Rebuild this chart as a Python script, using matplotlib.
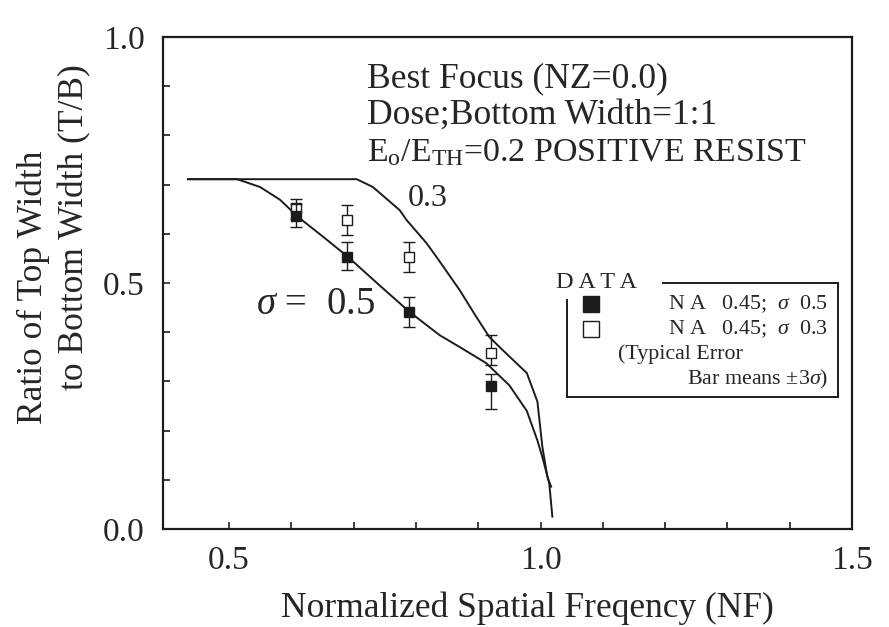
import matplotlib
matplotlib.use("Agg")
import matplotlib.pyplot as plt
from matplotlib.ticker import FixedLocator
from matplotlib.lines import Line2D
import numpy as np

plt.rcParams['font.family'] = ['Liberation Serif', 'DejaVu Serif']
plt.rcParams['mathtext.fontset'] = 'custom'
plt.rcParams['mathtext.rm'] = 'Liberation Serif'
plt.rcParams['mathtext.it'] = 'Liberation Serif:italic'

INK = '#1c1c1c'
TXT = '#262626'

# Simulated T/B ratio curves
nf_s05 = [0.434, 0.513, 0.550, 0.582, 0.611, 0.650, 0.691, 0.740, 0.790, 0.838,
          0.870, 0.913, 0.950, 0.978, 0.995, 1.003, 1.014, 1.019]
tb_s05 = [0.711, 0.711, 0.695, 0.669, 0.634, 0.595, 0.553, 0.497, 0.441, 0.394,
          0.370, 0.337, 0.292, 0.240, 0.180, 0.146, 0.093, 0.025]

nf_s03 = [0.434, 0.705, 0.731, 0.774, 0.785, 0.817, 0.833, 0.870, 0.897, 0.918,
          0.939, 0.978, 0.995, 1.003, 1.011, 1.017]
tb_s03 = [0.711, 0.711, 0.695, 0.648, 0.628, 0.581, 0.553, 0.486, 0.431, 0.390,
          0.364, 0.317, 0.259, 0.167, 0.106, 0.086]

# Measured data (NA 0.45)
nf_meas = [0.607, 0.689, 0.789, 0.920]
meas_s05 = [0.636, 0.553, 0.442, 0.291]
low_s05 = [0.614, 0.526, 0.411, 0.243]
high_s05 = [0.660, 0.584, 0.472, 0.316]
meas_s03 = [0.652, 0.628, 0.553, 0.358]
low_s03 = [0.630, 0.598, 0.523, 0.333]
high_s03 = [0.671, 0.659, 0.584, 0.394]

x_major = [0.5, 1.0, 1.5]
x_major_labels = ['0.5', '1.0', '1.5']
x_minor = [0.6, 0.7, 0.8, 0.9, 1.1, 1.2, 1.3, 1.4]
y_major = [0.0, 0.5, 1.0]
y_major_labels = ['0.0', '0.5', '1.0']
y_minor = [0.1, 0.2, 0.3, 0.4, 0.6, 0.7, 0.8, 0.9]

W, H = 889, 627
fig = plt.figure(figsize=(W / 100, H / 100), dpi=100)
ax = fig.add_axes([163 / W, 1 - 529 / H, 689 / W, 492 / H])
renderer = fig.canvas.get_renderer()


def fit(t, span):
    """Scale a text's font size so its long side covers `span` pixels."""
    bb = t.get_window_extent(renderer)
    length = max(bb.width, bb.height)
    t.set_fontsize(t.get_fontsize() * span / length)
    return t


ax.plot(nf_s05, tb_s05, color=INK, lw=1.4, zorder=2)
ax.plot(nf_s03, tb_s03, color=INK, lw=1.4, zorder=2)

y05 = np.array(meas_s05)
err05 = [y05 - np.array(low_s05), np.array(high_s05) - y05]
y03 = np.array(meas_s03)
err03 = [y03 - np.array(low_s03), np.array(high_s03) - y03]

ax.errorbar(nf_meas, meas_s03, yerr=err03, fmt='s', ms=7, mfc='white',
            mec=INK, mew=1.0, ecolor=INK, elinewidth=1.0, capsize=4.5,
            capthick=1.0, zorder=3)
ax.errorbar(nf_meas, meas_s05, yerr=err05, fmt='s', ms=7, mfc=INK,
            mec=INK, mew=1.0, ecolor=INK, elinewidth=1.0, capsize=4.5,
            capthick=1.0, zorder=4)

ax.set_xlim(0.394, 1.5)
ax.set_ylim(0.0, 1.0)

ax.xaxis.set_major_locator(FixedLocator(x_major))
ax.set_xticklabels(x_major_labels)
ax.xaxis.set_minor_locator(FixedLocator(x_minor))
ax.yaxis.set_major_locator(FixedLocator(y_major))
ax.set_yticklabels(y_major_labels)
ax.yaxis.set_minor_locator(FixedLocator(y_minor))

ax.tick_params(which='both', direction='in', length=5, width=1.2, color=INK,
               top=False, right=False)
ax.tick_params(axis='x', which='major', labelsize=24, pad=12, colors=TXT)
ax.tick_params(axis='y', which='major', labelsize=24, pad=13, colors=TXT)

for sp in ax.spines.values():
    sp.set_linewidth(1.6)
    sp.set_color(INK)

# Axis titles
TITLE_FS = 25.5
fig.text(527 / W, 1 - 617 / H, 'Normalized Spatial Freqency (NF)',
         ha='center', va='baseline', fontsize=TITLE_FS, color=TXT)
fig.text(42 / W, 1 - 287 / H, 'Ratio of Top Width', rotation=90,
         rotation_mode='anchor', ha='center', va='baseline',
         fontsize=TITLE_FS, color=TXT)
fig.text(83 / W, 1 - 227 / H, 'to Bottom Width (T/B)', rotation=90,
         rotation_mode='anchor', ha='center', va='baseline',
         fontsize=TITLE_FS, color=TXT)


def ax_x(px):
    return (px - 163) / 689


def ax_y(py):
    return (529 - py) / 492


# Condition notes
fit(ax.text(ax_x(367), ax_y(87), 'Best Focus (NZ=0.0)',
            transform=ax.transAxes, ha='left', va='baseline', fontsize=20,
            color=TXT), 300)
fit(ax.text(ax_x(367), ax_y(124), 'Dose;Bottom Width=1:1',
            transform=ax.transAxes, ha='left', va='baseline', fontsize=20,
            color=TXT), 350)
fit(ax.text(ax_x(367), ax_y(161),
            r'$\mathrm{E_{o}/E_{TH}}$=0.2 POSITIVE RESIST',
            transform=ax.transAxes, ha='left', va='baseline', fontsize=20,
            color=TXT), 440)

# Curve labels
fit(ax.text(ax_x(428), ax_y(199), '0.3', transform=ax.transAxes,
            ha='center', va='center', fontsize=18, color=TXT), 40)
fit(ax.text(ax_x(315), ax_y(305), r'$\sigma$ =  0.5', transform=ax.transAxes,
            ha='center', va='center', fontsize=18, color=TXT), 120)

# Data key
key = dict(transform=ax.transAxes, color=INK, lw=1.4, clip_on=False)
ax.add_line(Line2D([ax_x(663), ax_x(838)], [ax_y(283), ax_y(283)], **key))
ax.add_line(Line2D([ax_x(838), ax_x(838)], [ax_y(283), ax_y(397)], **key))
ax.add_line(Line2D([ax_x(567), ax_x(838)], [ax_y(397), ax_y(397)], **key))
ax.add_line(Line2D([ax_x(567), ax_x(567)], [ax_y(300), ax_y(397)], **key))

ax.text(ax_x(556), ax_y(283), 'D A T A', transform=ax.transAxes,
        ha='left', va='center', fontsize=17.5, color=TXT)
ax.plot([ax_x(591)], [ax_y(304)], 's', ms=12, mfc=INK, mec=INK,
        transform=ax.transAxes, clip_on=False)
ax.plot([ax_x(591)], [ax_y(329)], 's', ms=11, mfc='white', mec=INK, mew=1.0,
        transform=ax.transAxes, clip_on=False)
legend_fs = 15.8
ax.text(ax_x(828), ax_y(304), r'N A   0.45;  $\sigma$  0.5',
        transform=ax.transAxes, ha='right', va='center', fontsize=legend_fs,
        color=TXT)
ax.text(ax_x(828), ax_y(329), r'N A   0.45;  $\sigma$  0.3',
        transform=ax.transAxes, ha='right', va='center', fontsize=legend_fs,
        color=TXT)
ax.text(ax_x(618), ax_y(354), '(Typical Error', transform=ax.transAxes,
        ha='left', va='center', fontsize=legend_fs, color=TXT)
ax.text(ax_x(828), ax_y(379), r'Bar means ±3$\sigma$)',
        transform=ax.transAxes, ha='right', va='center', fontsize=legend_fs,
        color=TXT)

fig.savefig('out.png', dpi=100, facecolor='white')
